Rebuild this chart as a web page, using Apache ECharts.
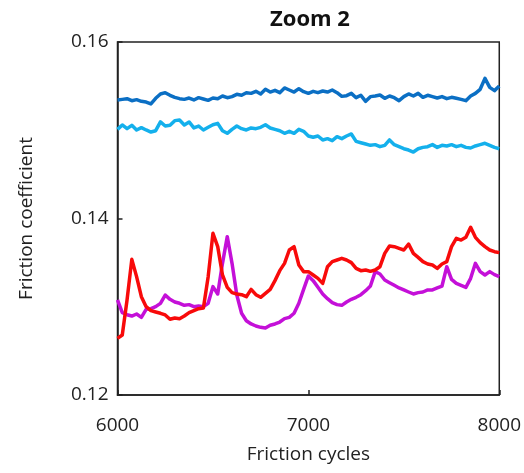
<!DOCTYPE html>
<html>
<head>
<meta charset="utf-8">
<script src="https://cdn.jsdelivr.net/npm/echarts@6/dist/echarts.min.js"></script>
<style>html,body{margin:0;padding:0;background:#fff}#c{width:524px;height:473px}</style>
</head>
<body>
<div id="c"></div>
<script>
const titleText = 'Zoom 2';
const xName = 'Friction cycles';
const yName = 'Friction coefficient';
const xTicks = [6000, 7000, 8000];
const yTicks = [0.12, 0.14, 0.16];

const cycles = [6000,6025,6050,6075,6100,6125,6150,6175,6200,6225,6250,6275,6300,6325,6350,6375,6400,6425,6450,6475,
6500,6525,6550,6575,6600,6625,6650,6675,6700,6725,6750,6775,6800,6825,6850,6875,6900,6925,6950,6975,
7000,7025,7050,7075,7100,7125,7150,7175,7200,7225,7250,7275,7300,7325,7350,7375,7400,7425,7450,7475,
7500,7525,7550,7575,7600,7625,7650,7675,7700,7725,7750,7775,7800,7825,7850,7875,7900,7925,7950,7975,8000];

const darkBlue = [0.15343,0.15350,0.15358,0.15335,0.15347,0.15328,0.15320,0.15298,0.15362,0.15411,0.15426,0.15396,0.15373,0.15358,0.15350,0.15365,0.15343,0.15369,0.15354,0.15339,
0.15365,0.15358,0.15388,0.15369,0.15381,0.15407,0.15396,0.15426,0.15418,0.15441,0.15411,0.15464,0.15433,0.15452,0.15426,0.15479,0.15456,0.15433,0.15471,0.15437,
0.15418,0.15441,0.15426,0.15445,0.15433,0.15456,0.15426,0.15384,0.15392,0.15418,0.15369,0.15396,0.15328,0.15381,0.15388,0.15399,0.15362,0.15388,0.15369,0.15335,
0.15381,0.15411,0.15388,0.15418,0.15373,0.15396,0.15381,0.15365,0.15381,0.15358,0.15373,0.15362,0.15350,0.15335,0.15388,0.15418,0.15464,0.15588,0.15486,0.15449,0.15501];

const lightBlue = [0.15010,0.15060,0.15018,0.15056,0.15003,0.15029,0.15003,0.14980,0.14995,0.15094,0.15048,0.15056,0.15109,0.15116,0.15060,0.15094,0.15026,0.15048,0.15003,0.15033,
0.15063,0.15078,0.14995,0.14965,0.15010,0.15048,0.15018,0.15003,0.15026,0.15018,0.15033,0.15063,0.15026,0.15010,0.14995,0.14965,0.14988,0.14965,0.15010,0.14988,
0.14935,0.14920,0.14935,0.14890,0.14905,0.14882,0.14927,0.14905,0.14935,0.14958,0.14874,0.14859,0.14844,0.14829,0.14837,0.14814,0.14829,0.14890,0.14837,0.14814,
0.14791,0.14776,0.14753,0.14791,0.14806,0.14814,0.14837,0.14806,0.14829,0.14822,0.14837,0.14814,0.14829,0.14806,0.14799,0.14822,0.14837,0.14852,0.14829,0.14806,0.14791];

const red = [0.12642,0.12680,0.13077,0.13537,0.13341,0.13114,0.13001,0.12956,0.12941,0.12926,0.12907,0.12858,0.12873,0.12865,0.12895,0.12933,0.12956,0.12978,0.12986,0.13341,
0.13832,0.13681,0.13360,0.13220,0.13160,0.13145,0.13137,0.13114,0.13197,0.13137,0.13107,0.13152,0.13197,0.13296,0.13409,0.13492,0.13643,0.13681,0.13473,0.13398,
0.13398,0.13360,0.13322,0.13265,0.13454,0.13511,0.13530,0.13549,0.13530,0.13500,0.13435,0.13409,0.13417,0.13401,0.13417,0.13454,0.13605,0.13688,0.13681,0.13662,
0.13643,0.13711,0.13605,0.13560,0.13511,0.13484,0.13473,0.13435,0.13484,0.13511,0.13681,0.13775,0.13756,0.13787,0.13900,0.13787,0.13726,0.13681,0.13643,0.13624,0.13613];

const magenta = [0.13077,0.12933,0.12910,0.12895,0.12918,0.12880,0.12971,0.12978,0.13001,0.13039,0.13133,0.13084,0.13054,0.13039,0.13016,0.13024,0.13001,0.13009,0.13001,0.13039,
0.13228,0.13145,0.13492,0.13794,0.13492,0.13133,0.12926,0.12842,0.12805,0.12782,0.12767,0.12759,0.12790,0.12805,0.12827,0.12865,0.12880,0.12926,0.13039,0.13197,
0.13349,0.13296,0.13220,0.13145,0.13092,0.13046,0.13024,0.13016,0.13054,0.13084,0.13107,0.13137,0.13182,0.13235,0.13398,0.13371,0.13303,0.13273,0.13243,0.13213,
0.13190,0.13167,0.13145,0.13160,0.13167,0.13190,0.13190,0.13213,0.13235,0.13454,0.13311,0.13265,0.13243,0.13220,0.13322,0.13492,0.13398,0.13360,0.13398,0.13364,0.13341];

const seriesNames = ['Dark blue', 'Light blue', 'Magenta', 'Red'];
const seriesColors = ['#0B6FC4', '#14B0EC', '#C410D8', '#F80A0A'];
const seriesValues = [darkBlue, lightBlue, magenta, red];

const font = '"Open Sans", Calibri, sans-serif';
const textColor = '#222';
const chart = echarts.init(document.getElementById('c'), null, {renderer: 'canvas'});

const series = seriesValues.map((vals, i) => ({
  name: seriesNames[i],
  type: 'line',
  data: cycles.map((c, j) => [c, vals[j]]),
  showSymbol: false,
  symbol: 'none',
  lineStyle: {color: seriesColors[i], width: 3.5, join: 'round'},
  itemStyle: {color: seriesColors[i]},
  z: 2 + i,
  animation: false
}));

chart.setOption({
  animation: false,
  title: {
    text: titleText,
    left: 305, top: 4, textAlign: 'center',
    textStyle: {fontFamily: font, fontWeight: 'bold', fontSize: 22, color: '#111'}
  },
  grid: {left: 117.5, right: 20, top: 42, bottom: 78, show: true, borderColor: '#222', borderWidth: 1.5, backgroundColor: 'transparent'},
  xAxis: {
    type: 'value', min: xTicks[0], max: xTicks[xTicks.length - 1], interval: 1000,
    name: xName, nameLocation: 'middle', nameGap: 50,
    nameTextStyle: {fontFamily: font, fontSize: 19, color: textColor},
    axisLine: {show: true, lineStyle: {color: '#222', width: 1.5}},
    axisTick: {show: true, inside: true, length: 5, lineStyle: {color: '#222', width: 1.5}},
    axisLabel: {fontFamily: font, fontSize: 19, color: textColor, margin: 21, formatter: v => String(v)},
    splitLine: {show: false}
  },
  yAxis: {
    type: 'value', min: yTicks[0], max: yTicks[yTicks.length - 1], interval: 0.02,
    name: yName, nameLocation: 'middle', nameGap: 81, nameRotate: 90,
    nameTextStyle: {fontFamily: font, fontSize: 19, color: textColor},
    axisLine: {show: true, lineStyle: {color: '#222', width: 1.5}},
    axisTick: {show: true, inside: true, length: 5, lineStyle: {color: '#222', width: 1.5}},
    axisLabel: {fontFamily: font, fontSize: 19, color: textColor, margin: 9, formatter: v => v.toFixed(2)},
    splitLine: {show: false}
  },
  series: series
});
</script>
</body>
</html>
